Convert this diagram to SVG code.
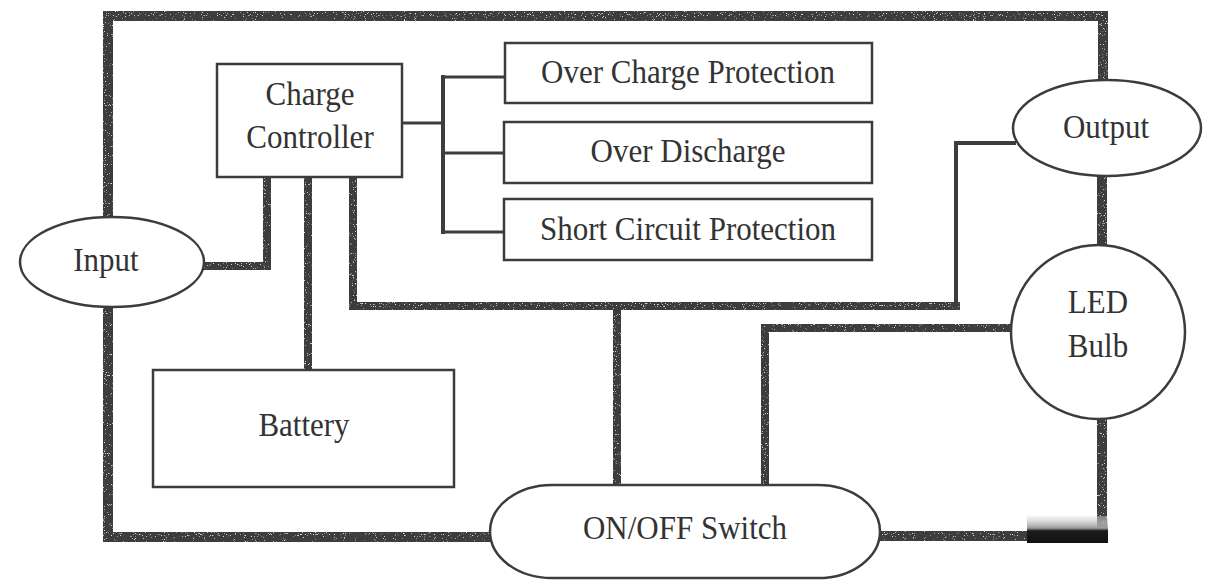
<svg xmlns="http://www.w3.org/2000/svg" width="1207" height="582" viewBox="0 0 1207 582">
  <style>
    .box { fill: #ffffff; stroke: #3c3c3c; stroke-width: 2.5; }
    .wire { fill: none; stroke: #3d3d3d; stroke-linejoin: miter; stroke-linecap: square; }
    .frame { stroke-width: 10; }
    .thick { stroke-width: 8; }
    .mid { stroke-width: 4; }
    .thin { stroke-width: 3; }
    .label { font-family: "Liberation Serif", "Times New Roman", serif; font-size: 31px; fill: #333333; text-anchor: middle; }
  </style>
  <defs>
    <!-- light speckle over the heavy wiring -->
    <filter id="grain" x="-5%" y="-5%" width="110%" height="110%">
      <feTurbulence type="fractalNoise" baseFrequency="0.9" numOctaves="1" seed="7" result="noise"/>
      <feColorMatrix in="noise" type="matrix" values="0 0 0 0 0.7  0 0 0 0 0.7  0 0 0 0 0.7  -12 0 0 0 4.2" result="spots"/>
      <feComposite in="spots" in2="SourceGraphic" operator="in" result="dots"/>
      <feMerge><feMergeNode in="SourceGraphic"/><feMergeNode in="dots"/></feMerge>
    </filter>
    <linearGradient id="smudge" x1="0" y1="0" x2="0" y2="1">
      <stop offset="0" stop-color="#e6e6e6" stop-opacity="0.4"/>
      <stop offset="0.45" stop-color="#9a9a9a"/>
      <stop offset="0.55" stop-color="#1c1c1c"/>
      <stop offset="1" stop-color="#111111"/>
    </linearGradient>
  </defs>

  <rect width="1207" height="582" fill="#ffffff"/>

  <g id="connectors">
    <g filter="url(#grain)">
      <!-- outer loop -->
      <path class="wire frame" d="M108,217 V16 H1103 V80"/>
      <path class="wire frame" d="M108,306 V537 H490"/>
      <path class="wire frame" d="M880,536 H1102 V418"/>
      <path class="wire frame" d="M1102,177 V247"/>
      <!-- controller leads -->
      <path class="wire thick" d="M267,177 V266 H205"/>
      <path class="wire thick" d="M308,177 V366"/>
      <path class="wire thick" d="M353,177 V306 H956"/>
      <path class="wire thick" d="M617,306 V485"/>
      <path class="wire thick" d="M765,485 V328 H1008"/>
    </g>
    <path class="wire mid" d="M956,306 V143 H1014"/>
    <!-- protection branch -->
    <path class="wire thin" d="M402,123 H443"/>
    <path class="wire mid" d="M443,77 V232"/>
    <path class="wire thin" d="M443,77 H505"/>
    <path class="wire thin" d="M443,153 H505"/>
    <path class="wire thin" d="M443,232 H505"/>
    <rect x="1027" y="516" width="81" height="27" fill="url(#smudge)"/>
  </g>

  <g id="charge-controller">
    <rect class="box" x="217" y="64" width="185" height="113"/>
    <text class="label" transform="matrix(1 0 0 1.12 310 105)">Charge</text>
    <text class="label" transform="matrix(1 0 0 1.12 310 148)">Controller</text>
  </g>

  <g id="over-charge">
    <rect class="box" x="505" y="43" width="367" height="60"/>
    <text class="label" transform="matrix(1 0 0 1.12 688 83)">Over Charge Protection</text>
  </g>

  <g id="over-discharge">
    <rect class="box" x="504" y="122" width="368" height="61"/>
    <text class="label" transform="matrix(1 0 0 1.12 688 162)">Over Discharge</text>
  </g>

  <g id="short-circuit">
    <rect class="box" x="504" y="199" width="368" height="61"/>
    <text class="label" transform="matrix(1 0 0 1.12 688 240)">Short Circuit Protection</text>
  </g>

  <g id="input">
    <ellipse class="box" cx="112" cy="262" rx="92" ry="45"/>
    <text class="label" transform="matrix(1 0 0 1.12 106 271)">Input</text>
  </g>

  <g id="battery">
    <rect class="box" x="153" y="370" width="301" height="117"/>
    <text class="label" transform="matrix(1 0 0 1.12 304 436)">Battery</text>
  </g>

  <g id="output">
    <ellipse class="box" cx="1107" cy="128" rx="94" ry="48"/>
    <text class="label" transform="matrix(1 0 0 1.12 1106 138)">Output</text>
  </g>

  <g id="led-bulb">
    <circle class="box" cx="1098" cy="332" r="87"/>
    <text class="label" transform="matrix(1 0 0 1.12 1098 313)">LED</text>
    <text class="label" transform="matrix(1 0 0 1.12 1098 357)">Bulb</text>
  </g>

  <g id="switch">
    <rect class="box" x="490" y="485" width="390" height="93" rx="62" ry="46.5"/>
    <text class="label" transform="matrix(1 0 0 1.12 685 539)">ON/OFF Switch</text>
  </g>
</svg>
